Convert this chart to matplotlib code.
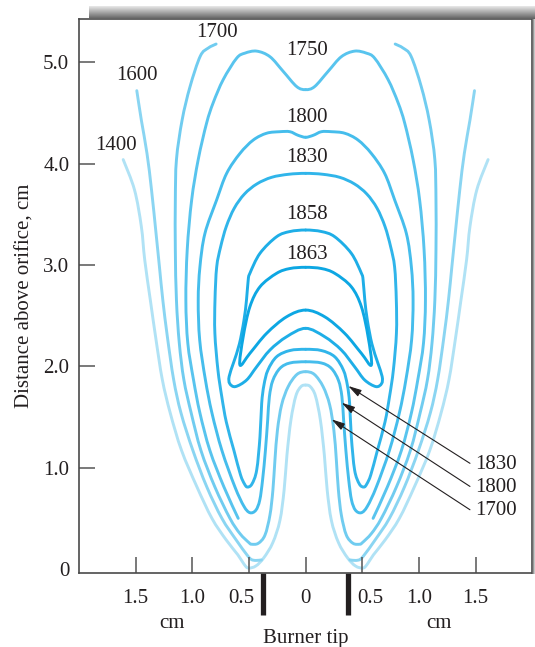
import matplotlib
matplotlib.use("Agg")
import matplotlib.pyplot as plt
import matplotlib.transforms as mtransforms
import numpy as np
from matplotlib.path import Path
from matplotlib.patches import PathPatch

plt.rcParams['font.family'] = ['Liberation Serif', 'DejaVu Serif']

# ---------------- data (left half of each isotherm, cm) ----------------
iso_1400_x = [-1.61, -1.51, -1.45, -1.42, -1.37, -1.32, -1.265, -1.195, -1.095, -0.959, -0.827,
              -0.703, -0.598, -0.545, -0.507, -0.44, -0.37, -0.29, -0.227, -0.19, -0.165, -0.13,
              -0.086, -0.041, 0.0]
iso_1400_y = [4.04, 3.74, 3.38, 3.05, 2.65, 2.26, 1.87, 1.54, 1.17, 0.81, 0.50,
              0.29, 0.14, 0.05, 0.01, 0.03, 0.11, 0.26, 0.48, 0.78, 1.125, 1.47,
              1.71, 1.80, 1.815]

iso_1600_x = [-1.49, -1.45, -1.40, -1.36, -1.32, -1.29, -1.26, -1.22, -1.165, -1.10, -0.995,
              -0.872, -0.739, -0.615, -0.518, -0.48, -0.44, -0.39]
iso_1600_y = [4.72, 4.43, 4.10, 3.74, 3.31, 2.98, 2.65, 2.29, 1.87, 1.54, 1.17,
              0.81, 0.50, 0.29, 0.14, 0.095, 0.085, 0.09]

iso_1700_x = [-0.79, -0.86, -0.93, -1.02, -1.09, -1.14, -1.15, -1.15, -1.14, -1.115, -1.075,
              -1.01, -0.924, -0.801, -0.668, -0.58, -0.50, -0.477, -0.418, -0.359, -0.315,
              -0.289, -0.271, -0.249, -0.212, -0.154, -0.077, 0.0]
iso_1700_y = [5.18, 5.14, 5.06, 4.76, 4.43, 4.04, 3.64, 3.15, 2.65, 2.23, 1.87,
              1.54, 1.17, 0.81, 0.50, 0.35, 0.26, 0.245, 0.254, 0.335, 0.533,
              0.779, 1.075, 1.37, 1.62, 1.80, 1.92, 1.947]

iso_1750_x = [-0.595, -0.721, -0.845, -0.933, -0.99, -1.04, -1.057, -1.045, -1.006, -0.948,
              -0.874, -0.816, -0.727, -0.609, -0.536, -0.432, -0.315, -0.198, -0.079, 0.0]
iso_1750_y = [0.50, 0.81, 1.17, 1.54, 1.87, 2.23, 2.65, 3.15, 3.64, 4.04,
              4.40, 4.60, 4.83, 5.04, 5.09, 5.11, 5.055, 4.91, 4.76, 4.73]

iso_1800_x = [0.0, -0.068, -0.139, -0.227, -0.344, -0.462, -0.58, -0.697, -0.786, -0.889, -0.933,
              -0.948, -0.935, -0.885, -0.827, -0.739, -0.624, -0.545, -0.492, -0.44, -0.405,
              -0.38, -0.355, -0.335, -0.32, -0.29, -0.227, -0.139, 0.0]
iso_1800_y = [4.26, 4.28, 4.315, 4.315, 4.30, 4.233, 4.10, 3.904, 3.64, 3.31, 2.98,
              2.65, 2.26, 1.87, 1.54, 1.17, 0.81, 0.62, 0.556, 0.58, 0.68,
              0.88, 1.17, 1.47, 1.70, 1.86, 1.98, 2.033, 2.045]

iso_1830_x = [0.0, -0.15, -0.30, -0.43, -0.54, -0.63, -0.70, -0.75, -0.785, -0.80, -0.801,
              -0.774, -0.74, -0.70, -0.633, -0.575, -0.54, -0.514, -0.474, -0.432, -0.403,
              -0.388, -0.368, -0.333, -0.256, -0.139, 0.0]
iso_1830_y = [3.904, 3.895, 3.865, 3.80, 3.70, 3.56, 3.38, 3.18, 2.98, 2.654, 2.326,
              1.963, 1.70, 1.45, 1.17, 0.93, 0.84, 0.809, 0.839, 0.977, 1.305,
              1.635, 1.815, 1.963, 2.095, 2.156, 2.168]

iso_1858_x = [0.0, -0.139, -0.256, -0.403, -0.492, -0.507, -0.522, -0.545, -0.585, -0.635, -0.675,
              -0.67, -0.62, -0.521, -0.432, -0.315, -0.168, 0.0]
iso_1858_y = [3.345, 3.33, 3.279, 3.115, 2.918, 2.851, 2.654, 2.45, 2.22, 2.04, 1.90,
              1.83, 1.80, 1.865, 1.996, 2.161, 2.292, 2.375]

iso_1863_x = [0.0, -0.139, -0.256, -0.403, -0.492, -0.551, -0.58, -0.492, -0.344, -0.168, 0.0]
iso_1863_y = [2.977, 2.965, 2.918, 2.785, 2.588, 2.292, 2.013, 2.128, 2.326, 2.489, 2.555]

levels = ['1400', '1600', '1700', '1750', '1800', '1830', '1858', '1863']
level_colors = ['#b0e2f5', '#8ad5f2', '#70ccf0', '#58c4ee', '#45bdec', '#30b5ea', '#1eaee7', '#0da7e3']

# label positions (cm)
label_x = [-1.674, -1.492, -0.786, 0.009, 0.009, 0.009, 0.015, 0.015]
label_y = [4.18, 4.867, 5.294, 5.113, 4.455, 4.06, 3.50, 3.106]

# arrow call-outs
callout_text = ['1830', '1800', '1700']
callout_tip_x = [0.376, 0.318, 0.229]
callout_tip_y = [1.806, 1.641, 1.477]
callout_tail_x = [1.45, 1.45, 1.45]
callout_tail_y = [1.043, 0.815, 0.585]
callout_text_x = [1.678, 1.678, 1.678]
callout_text_y = [1.034, 0.804, 0.574]

x_ticks = [-1.5, -1.0, -0.5, 0.0, 0.5, 1.0, 1.5]
x_tick_labels = ['1.5', '1.0', '0.5', '0', '0.5', '1.0', '1.5']
y_ticks = [0, 1, 2, 3, 4, 5]
y_tick_labels = ['0', '1.0', '2.0', '3.0', '4.0', '5.0']
burner_tip_x = [-0.372, 0.372]


def smooth_path(xs, ys):
    """Smooth curve through the read points (Catmull-Rom drawn as cubic Bezier path)."""
    p = np.column_stack([xs, ys]).astype(float)
    n = len(p)
    # phantom neighbours: mirror across the axis when an end sits on x = 0
    first = np.array([-p[1, 0], p[1, 1]]) if p[0, 0] == 0 else p[0]
    last = np.array([-p[-2, 0], p[-2, 1]]) if p[-1, 0] == 0 else p[-1]
    ext = np.vstack([first, p, last])
    verts = [p[0]]
    codes = [Path.MOVETO]
    for i in range(n - 1):
        p0, p1, p2, p3 = ext[i], ext[i + 1], ext[i + 2], ext[i + 3]
        verts += [p1 + (p2 - p0) / 6.0, p2 - (p3 - p1) / 6.0, p2]
        codes += [Path.CURVE4] * 3
    return Path(verts, codes)


# ---------------- figure ----------------
W, H = 535, 647
fig = plt.figure(figsize=(W / 100, H / 100), dpi=100)
ax = fig.add_axes([79 / W, 1 - 573.3 / H, (532.3 - 79) / W, (573.3 - 19.3) / H])

curves = [(iso_1400_x, iso_1400_y), (iso_1600_x, iso_1600_y), (iso_1700_x, iso_1700_y),
          (iso_1750_x, iso_1750_y), (iso_1800_x, iso_1800_y), (iso_1830_x, iso_1830_y),
          (iso_1858_x, iso_1858_y), (iso_1863_x, iso_1863_y)]
for (cx, cy), col in zip(curves, level_colors):
    cx = np.asarray(cx, dtype=float)
    cy = np.asarray(cy, dtype=float)
    for sx in (cx, -cx):
        ax.add_patch(PathPatch(smooth_path(sx, cy), facecolor='none', edgecolor=col,
                               lw=2.1, capstyle='round', joinstyle='round'))

txt_col = '#231f20'
for lab, lx, ly in zip(levels, label_x, label_y):
    ax.text(lx, ly, lab, ha='center', va='center', fontsize=15, color=txt_col)

for t, tx, ty, ax0, ay0, lx, ly in zip(callout_text, callout_tip_x, callout_tip_y,
                                        callout_tail_x, callout_tail_y,
                                        callout_text_x, callout_text_y):
    ax.annotate('', xy=(tx, ty), xytext=(ax0, ay0),
                arrowprops=dict(arrowstyle='-|>,head_length=0.8,head_width=0.22',
                                lw=0.8, color=txt_col, shrinkA=0, shrinkB=0))
    ax.text(lx, ly, t, ha='center', va='center', fontsize=15, color=txt_col)

ax.set_xlim(-2.0, 2.0)
ax.set_ylim(-0.042, 5.424)
ax.set_xticks(x_ticks)
ax.set_xticklabels(x_tick_labels)
ax.set_yticks(y_ticks)
ax.set_yticklabels(y_tick_labels)
ax.tick_params(direction='in', length=11.5, width=1.1, color='#555555',
               labelsize=15, labelcolor=txt_col)
ax.tick_params(axis='x', pad=11)
ax.tick_params(axis='y', pad=7)
ax.yaxis.get_major_ticks()[0].tick1line.set_visible(False)
for s in ax.spines.values():
    s.set_color('#4a4a4a')
    s.set_linewidth(1.2)

# the two "0.5" labels sit slightly outward, clear of the burner-tip bars
for lbl, tick_val in zip(ax.get_xticklabels(), x_ticks):
    if abs(tick_val) == 0.5:
        shift = mtransforms.ScaledTranslation(np.sign(tick_val) * 0.08, 0, fig.dpi_scale_trans)
        lbl.set_transform(lbl.get_transform() + shift)

ax.set_ylabel('Distance above orifice, cm', fontsize=15, color=txt_col)
ax.yaxis.set_label_coords(-0.098, 0.5)

for bx in burner_tip_x:
    ax.plot([bx, bx], [-0.042, -0.45], color=txt_col, lw=3.8, solid_capstyle='butt', clip_on=False)
ax.text(-1.18, -0.535, 'cm', ha='center', va='center', fontsize=15, color=txt_col, clip_on=False)
ax.text(1.18, -0.535, 'cm', ha='center', va='center', fontsize=15, color=txt_col, clip_on=False)
ax.text(0.0, -0.69, 'Burner tip', ha='center', va='center', fontsize=15, color=txt_col, clip_on=False)

# decorative shaded frame (top bar and right edge)
bar = fig.add_axes([89 / W, 1 - 19.3 / H, 1 - 89 / W, 13.3 / H])
bar.imshow(np.linspace(0.95, 0.38, 40)[:, None], cmap='gray', vmin=0, vmax=1, aspect='auto')
bar.axis('off')
side = fig.add_axes([532.3 / W, 1 - 574 / H, 2.7 / W, (574 - 19.3) / H])
side.imshow(np.linspace(0.35, 0.85, 10)[None, :], cmap='gray', vmin=0, vmax=1, aspect='auto')
side.axis('off')

fig.savefig('out.png', dpi=100)
